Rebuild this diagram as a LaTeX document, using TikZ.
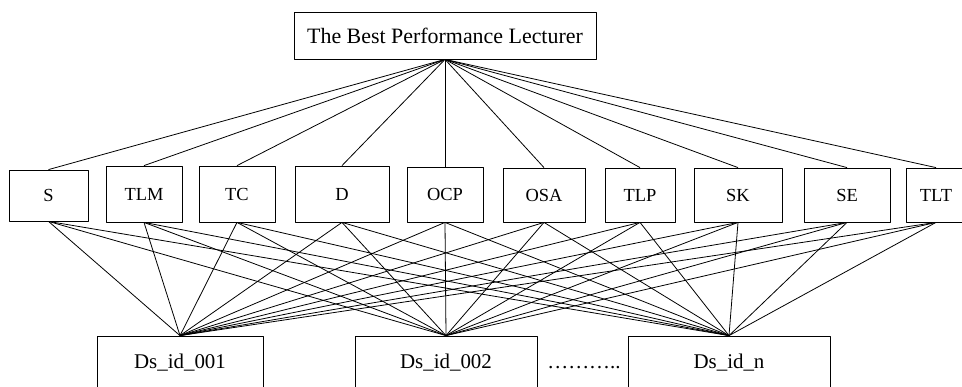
\documentclass[tikz,border=0pt]{standalone}
\usepackage{fontspec}
\setmainfont{Liberation Serif}
\begin{document}
\begin{tikzpicture}[line join=bevel,line width=0.8pt,
  box/.style={draw,inner sep=0pt,font=\fontsize{18.5}{22}\selectfont},
  idbox/.style={draw,inner sep=0pt,minimum height=54bp,font=\fontsize{21}{24}\selectfont}]
\useasboundingbox (0bp,0bp) rectangle (962bp,387bp);
\clip (0bp,0bp) rectangle (962bp,387bp);
%%
\node (node_0) at (445.0bp,351.5bp) [draw,inner sep=0pt,minimum width=302bp,minimum height=47bp,font=\fontsize{22}{26}\selectfont] {The Best Performance Lecturer};
  \node (node_1) at (48.5bp,191.5bp) [box,minimum width=79bp,minimum height=51bp] {S};
  \node (node_2) at (144.0bp,193.0bp) [box,minimum width=76bp,minimum height=56bp] {TLM};
  \node (node_3) at (237.0bp,193.0bp) [box,minimum width=76bp,minimum height=56bp] {TC};
  \node (node_4) at (342.0bp,193.0bp) [box,minimum width=94bp,minimum height=56bp] {D};
  \node (node_5) at (445.0bp,192.5bp) [box,minimum width=76bp,minimum height=55bp] {OCP};
  \node (node_6) at (544.0bp,192.0bp) [box,minimum width=82bp,minimum height=54bp] {OSA};
  \node (node_7) at (640.0bp,192.0bp) [box,minimum width=70bp,minimum height=54bp] {TLP};
  \node (node_8) at (738.0bp,192.0bp) [box,minimum width=88bp,minimum height=54bp] {SK};
  \node (node_9) at (847.0bp,192.0bp) [box,minimum width=86bp,minimum height=54bp] {SE};
  \node (node_10) at (936.0bp,192.0bp) [box,minimum width=60bp,minimum height=54bp] {TLT};
  \node (node_11) at (180.0bp,24.0bp) [idbox,minimum width=166bp] {Ds\_id\_001};
  \node (node_12) at (446.0bp,24.0bp) [idbox,minimum width=182bp] {Ds\_id\_002};
  \node (node_13) at (729.0bp,24.0bp) [idbox,minimum width=202bp] {Ds\_id\_n};
  \node (node_14) at (584.0bp,19.0bp) [font=\fontsize{21}{24}\selectfont] {………..};
  \draw [black] (node_0.south) -- (node_1.north);
  \draw [black] (node_0.south) -- (node_2.north);
  \draw [black] (node_0.south) -- (node_3.north);
  \draw [black] (node_0.south) -- (node_4.north);
  \draw [black] (node_0.south) -- (node_5.north);
  \draw [black] (node_0.south) -- (node_6.north);
  \draw [black] (node_0.south) -- (node_7.north);
  \draw [black] (node_0.south) -- (node_8.north);
  \draw [black] (node_0.south) -- (node_9.north);
  \draw [black] (node_0.south) -- (node_10.north);
  \draw [black] (node_1.south) -- (node_11.north);
  \draw [black] (node_1.south) -- (node_12.north);
  \draw [black] (node_1.south) -- (node_13.north);
  \draw [black] (node_2.south) -- (node_11.north);
  \draw [black] (node_2.south) -- (node_12.north);
  \draw [black] (node_2.south) -- (node_13.north);
  \draw [black] (node_3.south) -- (node_11.north);
  \draw [black] (node_3.south) -- (node_12.north);
  \draw [black] (node_3.south) -- (node_13.north);
  \draw [black] (node_4.south) -- (node_11.north);
  \draw [black] (node_4.south) -- (node_12.north);
  \draw [black] (node_4.south) -- (node_13.north);
  \draw [black] (node_5.south) -- (node_11.north);
  \draw [black] (node_5.south) -- (node_12.north);
  \draw [black] (node_5.south) -- (node_13.north);
  \draw [black] (node_6.south) -- (node_11.north);
  \draw [black] (node_6.south) -- (node_12.north);
  \draw [black] (node_6.south) -- (node_13.north);
  \draw [black] (node_7.south) -- (node_11.north);
  \draw [black] (node_7.south) -- (node_12.north);
  \draw [black] (node_7.south) -- (node_13.north);
  \draw [black] (node_8.south) -- (node_11.north);
  \draw [black] (node_8.south) -- (node_12.north);
  \draw [black] (node_8.south) -- (node_13.north);
  \draw [black] (node_9.south) -- (node_11.north);
  \draw [black] (node_9.south) -- (node_12.north);
  \draw [black] (node_9.south) -- (node_13.north);
  \draw [black] (node_10.south) -- (node_11.north);
  \draw [black] (node_10.south) -- (node_12.north);
  \draw [black] (node_10.south) -- (node_13.north);
%
\end{tikzpicture}
\end{document}
